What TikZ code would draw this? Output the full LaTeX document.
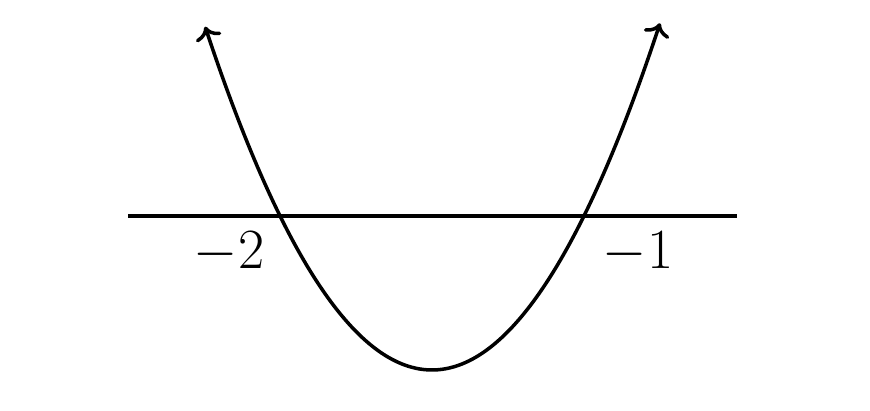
\documentclass[tikz,border=0pt]{standalone}
\usetikzlibrary{arrows.meta}
\begin{document}
\begin{tikzpicture}[x=0.02cm,y=0.02cm,
  curve/.style={line width=2pt,{Computer Modern Rightarrow[scale=1.2]}-{Computer Modern Rightarrow[scale=1.2]}},
  axisline/.style={line width=2pt},
  lab/.style={inner sep=0pt,font=\Huge,scale=1.3}]
\useasboundingbox (0,0) rectangle (870,411);
\coordinate (L) at (128,195);
\coordinate (R) at (737,195);
\draw[axisline] (L) -- (R);
\draw[curve] plot[variable=\t,domain=2.28:-2.27,samples=120,smooth] ({432+100*\t},{41+66.7*\t*\t});
\node[lab] (m2) at (229,158) {$-2$};
\node[lab] (m1) at (638,158) {$-1$};
\end{tikzpicture}
\end{document}
